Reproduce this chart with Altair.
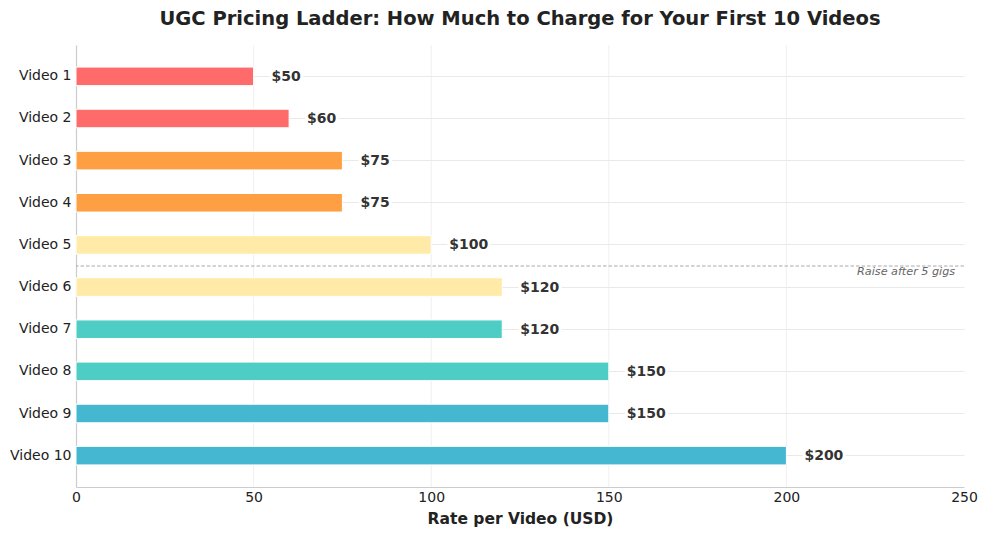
import altair as alt
import pandas as pd

videos = [f"Video {i}" for i in range(1, 11)]
rates = [50, 60, 75, 75, 100, 120, 120, 150, 150, 200]
colors = ["#FF6B6B", "#FF6B6B", "#FF9F43", "#FF9F43", "#FFEAA7",
          "#FFEAA7", "#4ECDC4", "#4ECDC4", "#45B7D1", "#45B7D1"]
labels = [f"${r}" for r in rates]
x_ticks = [0, 50, 100, 150, 200, 250]
x_grid = [50, 100, 150, 200]
threshold_after = "Video 5"
note = "Raise after 5 gigs"

df = pd.DataFrame({"video": videos, "rate": rates, "color": colors, "label": labels})

FONT = "DejaVu Sans"

y_enc = alt.Y(
    "video:N",
    sort=videos,
    scale=alt.Scale(domain=videos, paddingInner=0.56, paddingOuter=0.524),
    axis=alt.Axis(
        title=None, ticks=False, labelFontSize=14, labelColor="#222222",
        labelPadding=5, labelFont=FONT, domainColor="#cccccc", domainWidth=1.2,
        grid=True, gridColor="#e3e3e3", gridWidth=0.8, bandPosition=0.5,
    ),
)
x_scale = alt.Scale(domain=[0, 250], nice=False)
x_enc = alt.X(
    "rate:Q",
    scale=x_scale,
    axis=alt.Axis(
        values=x_ticks, title="Rate per Video (USD)", titleFontSize=15.5,
        titleFontWeight="bold", titleColor="#222222", titleFont=FONT, titlePadding=7,
        labelFontSize=14, labelColor="#222222", labelFont=FONT, labelPadding=3,
        ticks=False, domainColor="#cccccc", domainWidth=1.2,
        grid=False, labelFlush=False,
    ),
)

base = alt.Chart(df)

grid = alt.Chart(pd.DataFrame({"g": x_grid})).mark_rule(
    color="#ececec", strokeWidth=0.8
).encode(x=alt.X("g:Q", scale=x_scale))

bars = base.mark_bar(stroke="white", strokeWidth=1).encode(
    x=x_enc, y=y_enc, color=alt.Color("color:N", scale=None)
)

halo = base.mark_text(
    align="left", baseline="middle", dx=18, dy=0.5, fontSize=14, fontWeight="bold",
    font=FONT, stroke="white", strokeWidth=6, color="white",
).encode(x="rate:Q", y=alt.Y("video:N", sort=videos), text="label:N")

text = base.mark_text(
    align="left", baseline="middle", dx=18, dy=0.5, fontSize=14, fontWeight="bold",
    font=FONT, color="#333333",
).encode(x="rate:Q", y=alt.Y("video:N", sort=videos), text="label:N")

rule = alt.Chart(pd.DataFrame({"video": [threshold_after]})).mark_rule(
    color="#a0a0a0", strokeDash=[3.5, 2], strokeWidth=0.9, yOffset=21.1
).encode(y=alt.Y("video:N", sort=videos))

note_df = pd.DataFrame({"video": [threshold_after], "x": [247.5], "note": [note]})
note_text = alt.Chart(note_df).mark_text(
    align="right", baseline="middle", fontSize=11.2, fontStyle="italic",
    color="#666666", font=FONT, yOffset=27.3,
).encode(x="x:Q", y=alt.Y("video:N", sort=videos), text="note:N")

chart = alt.layer(grid, bars, halo, text, rule, note_text).properties(
    width=888,
    height=442,
    background="white",
    title=alt.TitleParams(
        "UGC Pricing Ladder: How Much to Charge for Your First 10 Videos",
        fontSize=19.5, fontWeight="bold", color="#222222", font=FONT,
        anchor="middle", offset=15,
    ),
    autosize=alt.AutoSizeParams(type="none"),
    padding={"left": 68, "top": 37, "right": 15, "bottom": 41},
).configure_view(stroke="transparent", strokeWidth=0)

chart.save("out.html", embed_options={"renderer": "svg", "actions": False})
